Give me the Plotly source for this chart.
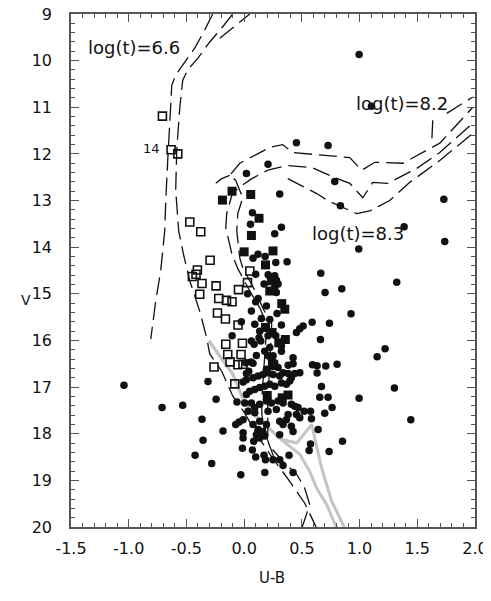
import plotly.graph_objects as go

# ---------------- data (U-B, V) ----------------
open_sq_ub = [-0.708, -0.633, -0.575, -0.471, -0.376, -0.295, -0.405, -0.417, -0.448, -0.365,
              -0.243, -0.385, -0.049, 0.049, 0.029, -0.220, -0.153, -0.105, -0.231, -0.162,
              -0.053, -0.015, -0.159, -0.142, -0.027, -0.122, -0.055, -0.010, -0.261, -0.081]
open_sq_v = [11.19, 11.91, 12.00, 13.46, 13.67, 14.28, 14.49, 14.58, 14.63, 14.78,
             14.83, 15.01, 14.91, 14.51, 14.76, 15.10, 15.14, 15.17, 15.41, 15.54,
             15.67, 16.06, 16.08, 16.30, 16.30, 16.46, 16.52, 16.51, 16.57, 16.93]

fill_sq_ub = [-0.188, -0.105, 0.057, 0.129, 0.063, 0.000, 0.250, 0.185, 0.236, 0.222,
              0.326, 0.352, 0.185, 0.242, 0.357, 0.300, 0.245, 0.200, 0.380, 0.330, 0.150]
fill_sq_v = [12.99, 12.80, 12.87, 13.38, 13.75, 14.10, 14.08, 14.38, 14.72, 14.94,
             15.21, 15.33, 15.72, 15.83, 15.98, 16.05, 16.53, 17.18, 17.17, 17.23, 17.97]

dot_ub = [0.996, 1.103, 0.453, 0.727, 0.207, 0.020, 0.785, 0.308, 0.834, 0.072,
          0.055, 0.323, 0.265, 1.386, 1.730, 1.738, 0.993, 0.372, 0.664, 1.322,
          0.701, 0.846, 0.926, 0.589, 0.739, 0.323, 0.661, 1.221, 1.152, 0.592,
          0.632, 0.707, 0.805, 0.632, 0.670, 1.302, 0.655, 0.727, 0.996, 0.762,
          0.698, 0.519, 0.575, 0.583, 1.444, 0.641, 0.852, 0.736, 0.575, 0.563,
          0.389, 0.337, 0.424,
          -1.041, -0.711, -0.532, -0.313, -0.243, -0.365, -0.183, -0.356, -0.425, -0.281,
          -0.029, 0.179, -0.044, -0.009, -0.015, 0.072, 0.100, 0.172, 0.250, 0.083,
          -0.073, -0.062, 0.020, 0.308, 0.185,
          0.077, 0.120, 0.274, 0.182, 0.100, 0.208, 0.237, 0.265, 0.280, 0.294,
          0.265, 0.173, 0.030, -0.104,
          0.279, 0.121, 0.100, 0.193, 0.063, 0.285, 0.149, 0.222, 0.092, -0.024,
          0.135, 0.207, 0.274, 0.063, 0.086, 0.144, 0.129, 0.222, 0.323, 0.106,
          0.077, 0.040, 0.424, 0.381, 0.482, 0.511, 0.453, 0.178, 0.207, 0.236,
          0.265, 0.245, 0.193, 0.294,
          0.014, 0.058, 0.020, 0.251, 0.323, 0.424, 0.482, 0.439,
          -0.009, 0.019, 0.077, 0.121, 0.164, 0.207, 0.251, 0.308, 0.337, 0.381,
          0.409, 0.048, 0.092, 0.135, 0.178, 0.222, 0.265, 0.323, 0.366, 0.395,
          0.005, 0.063, 0.092, 0.135, 0.193, 0.236, 0.294, 0.337, 0.409, 0.438,
          0.467, 0.034, 0.092, 0.207, 0.279, 0.381, 0.453, 0.482,
          -0.009, 0.077, 0.135, 0.193, 0.308, 0.366, 0.337, 0.409,
          0.121, 0.164, 0.106, 0.135, 0.178, -0.009, 0.308, 0.424]
dot_v = [9.87, 10.98, 11.76, 11.82, 12.22, 12.42, 12.59, 12.86, 13.11, 13.26,
         13.51, 13.57, 13.71, 13.56, 12.97, 13.88, 14.04, 14.31, 14.56, 14.75,
         14.97, 14.89, 15.43, 15.61, 15.63, 15.67, 15.98, 16.18, 16.35, 16.52,
         16.54, 16.55, 16.51, 16.70, 16.99, 17.02, 17.22, 17.22, 17.24, 17.44,
         17.56, 17.52, 17.52, 17.68, 17.70, 17.91, 18.16, 18.38, 18.22, 18.36,
         18.46, 18.68, 18.83,
         16.96, 17.44, 17.39, 16.88, 17.26, 17.69, 17.94, 18.14, 18.46, 18.64,
         18.88, 18.83, 17.75, 18.09, 18.31, 18.35, 18.50, 18.46, 18.56, 18.16,
         17.80, 17.32, 17.16, 18.56, 18.56,
         14.24, 14.15, 14.33, 14.20, 14.58, 14.59, 14.65, 14.61, 14.71, 14.79,
         14.86, 14.79, 15.00, 15.90,
         14.97, 15.10, 15.17, 15.26, 15.37, 15.42, 15.53, 15.55, 15.65, 15.60,
         15.80, 15.90, 15.90, 16.01, 16.08, 16.01, 15.94, 16.15, 16.12, 16.32,
         16.49, 16.66, 16.37, 16.53, 15.75, 15.69, 15.83, 16.23, 16.33, 16.41,
         16.48, 16.56, 16.62, 16.58,
         16.48, 16.46, 16.71, 16.33, 16.23, 16.50, 16.69, 16.71,
         16.89, 16.84, 16.80, 16.76, 16.73, 16.69, 16.73, 16.76, 16.69, 16.71,
         16.80, 17.09, 17.05, 17.01, 16.98, 16.94, 16.98, 16.91, 16.94, 16.87,
         17.34, 17.34, 17.44, 17.37, 17.30, 17.34, 17.30, 17.34, 17.37, 17.41,
         17.44, 17.52, 17.55, 17.52, 17.48, 17.59, 17.59, 17.66,
         17.70, 17.80, 17.73, 17.80, 17.73, 17.70, 17.80, 17.84,
         17.91, 17.98, 18.02, 18.09, 18.05, 17.98, 18.02, 17.95]

# isochrones (dashed black)
iso66a_ub = [-0.272, -0.341, -0.428, -0.515, -0.593, -0.627, -0.645, -0.662, -0.679, -0.688, -0.723, -0.766, -0.792, -0.809]
iso66a_v = [9.00, 9.34, 9.73, 10.03, 10.31, 10.53, 11.28, 12.14, 13.00, 13.65, 14.51, 15.15, 15.65, 15.97]
iso66b_ub = [-0.099, -0.194, -0.298, -0.402, -0.489, -0.532, -0.558, -0.584, -0.593, -0.567, -0.523, -0.471,
             -0.385, -0.324, -0.298, -0.194, -0.099, 0.005, 0.118, 0.248, 0.395, 0.525, 0.629]
iso66b_v = [9.00, 9.30, 9.60, 9.95, 10.20, 10.42, 11.02, 11.92, 12.78, 13.65, 14.18, 14.72,
            15.37, 15.95, 16.29, 16.66, 17.19, 17.56, 18.05, 18.53, 19.02, 19.49, 20.03]
iso66c_ub = [-0.211, 0.049]
iso66c_v = [9.52, 9.00]
iso82a_ub = [0.499, 0.568, 0.525, 0.456, 0.334, 0.222, 0.178, 0.153, 0.153, 0.170, 0.187, 0.205, 0.135, 0.049,
             -0.055, -0.107, -0.159, -0.151, -0.107, -0.055, 0.066, 0.205, 0.369, 0.586, 0.785, 0.915, 1.028,
             1.114, 1.244, 1.496, 1.695, 1.981]
iso82a_v = [20.03, 19.52, 19.17, 18.87, 18.59, 18.27, 17.95, 17.58, 17.26, 16.66, 16.01, 15.69, 15.30, 14.94,
            14.46, 14.14, 13.58, 13.28, 12.89, 12.74, 12.53, 12.35, 12.25, 12.29, 12.51, 12.63, 12.94,
            12.61, 12.63, 12.31, 11.97, 11.34]
iso82b_ub = [0.265, 0.205, 0.205, 0.222, 0.239, 0.160, 0.109, -0.012, -0.038, -0.064, -0.055, -0.012, -0.073,
             -0.125, -0.038, 0.222, 0.334, 0.421, 0.915, 1.019, 1.132, 1.374, 1.461, 1.695, 1.981]
iso82b_v = [18.55, 18.16, 17.30, 16.44, 15.65, 15.30, 15.00, 14.44, 14.23, 13.65, 13.28, 12.94, 12.57,
            12.46, 12.20, 11.86, 11.80, 11.97, 12.08, 12.35, 12.18, 12.20, 12.08, 11.77, 11.00]
iso83_ub = [0.378, 0.629, 0.724, 0.976, 1.088, 1.261, 1.435, 1.695, 1.981]
iso83_v = [12.53, 12.85, 13.00, 13.28, 13.22, 13.00, 12.61, 12.14, 11.56]
iso_e1_ub = [1.755, 1.981]
iso_e1_v = [11.13, 10.78]
iso_e2_ub = [1.634, 1.626]
iso_e2_v = [11.28, 11.71]
iso_e3_ub = [-0.246, -0.194, -0.125]
iso_e3_v = [12.63, 12.53, 12.46]

# gray lines
gray1_ub = [-0.305, -0.194, -0.099, -0.012, 0.075, 0.196, 0.326, 0.456, 0.586, 0.612, 0.672, 0.759, 0.872]
gray1_v = [16.01, 16.38, 16.72, 17.24, 17.56, 17.84, 18.12, 18.20, 17.80, 18.10, 18.74, 19.45, 20.03]
gray2_ub = [-0.305, -0.194, -0.099, -0.012, 0.075, 0.196, 0.308, 0.482, 0.568, 0.629, 0.716, 0.802]
gray2_v = [16.01, 16.38, 16.72, 17.24, 17.56, 17.84, 18.10, 18.44, 18.81, 19.17, 19.52, 20.03]

x_tickvals = [-1.5, -1.0, -0.5, 0.0, 0.5, 1.0, 1.5, 2.0]
x_ticktext = ["-1.5", "-1.0", "-0.5", "0.0", "0.5", "1.0", "1.5", "2.0"]
y_tickvals = [9, 10, 11, 12, 13, 14, 15, 16, 17, 18, 19, 20]
y_ticktext = [str(v) for v in y_tickvals]

labels = ["log(t)=6.6", "log(t)=8.2", "log(t)=8.3"]
label_ub = [-1.37, 0.95, 0.57]
label_v = [9.71, 10.91, 13.71]

FONT = "DejaVu Sans, Verdana, sans-serif"

fig = go.Figure()

for xs, ys in [(gray1_ub, gray1_v), (gray2_ub, gray2_v)]:
    fig.add_trace(go.Scatter(x=xs, y=ys, mode="lines",
                             line=dict(color="#c4c4c4", width=3), hoverinfo="skip"))

dash = "18px,7px"
for xs, ys in [(iso66a_ub, iso66a_v), (iso66b_ub, iso66b_v), (iso66c_ub, iso66c_v),
               (iso82a_ub, iso82a_v), (iso82b_ub, iso82b_v), (iso83_ub, iso83_v),
               (iso_e1_ub, iso_e1_v), (iso_e2_ub, iso_e2_v), (iso_e3_ub, iso_e3_v)]:
    fig.add_trace(go.Scatter(x=xs, y=ys, mode="lines",
                             line=dict(color="#111111", width=1.3, dash=dash), hoverinfo="skip"))

fig.add_trace(go.Scatter(x=dot_ub, y=dot_v, mode="markers",
                         marker=dict(symbol="circle", size=7.5, color="#111111", line=dict(width=0))))
fig.add_trace(go.Scatter(x=fill_sq_ub, y=fill_sq_v, mode="markers",
                         marker=dict(symbol="square", size=9, color="#111111", line=dict(width=0))))
fig.add_trace(go.Scatter(x=open_sq_ub, y=open_sq_v, mode="markers",
                         marker=dict(symbol="square-open", size=8, color="#111111",
                                     line=dict(width=1.6, color="#111111"))))

for t, xu, yv in zip(labels, label_ub, label_v):
    fig.add_annotation(x=xu, y=yv, text=t, showarrow=False, xanchor="left", yanchor="middle",
                       font=dict(family=FONT, size=18, color="#111111"))
fig.add_annotation(x=-0.71, y=11.88, text="14", showarrow=False, xanchor="right", yanchor="middle",
                   font=dict(family=FONT, size=13, color="#111111"))
fig.add_annotation(x=0.497, y=-0.099, xref="paper", yref="paper", text="U-B", showarrow=False,
                   yanchor="middle", xanchor="center", font=dict(family=FONT, size=15, color="#111111"))
fig.add_annotation(x=-0.112, y=0.442, xref="paper", yref="paper", text="V", showarrow=False,
                   yanchor="middle", xanchor="center", font=dict(family=FONT, size=14, color="#111111"))

axis_common = dict(showline=True, linecolor="#555555", linewidth=1.5, mirror="allticks",
                   ticks="inside", ticklen=8, tickwidth=1, tickcolor="#555555",
                   showgrid=False, zeroline=False, automargin=False, ticklabeloverflow="allow",
                   tickfont=dict(family=FONT, size=16, color="#111111"))
fig.update_xaxes(range=[-1.5, 2.0], tickvals=x_tickvals, ticktext=x_ticktext,
                 minor=dict(dtick=0.1, tick0=-1.5, ticks="inside", ticklen=4, tickcolor="#555555", showgrid=False),
                 ticklabelstandoff=6, **axis_common)
fig.update_yaxes(range=[20, 9], tickvals=y_tickvals, ticktext=y_ticktext,
                 minor=dict(dtick=0.2, tick0=9, ticks="inside", ticklen=4, tickcolor="#555555", showgrid=False),
                 ticklabelstandoff=14, **axis_common)

# page body adds an 8px margin, so the figure is sized to fill the 491x601 window
fig.update_layout(width=483, height=593, margin=dict(l=63, r=16, t=6, b=74, autoexpand=False),
                  paper_bgcolor="white", plot_bgcolor="white", showlegend=False,
                  font=dict(family=FONT, color="#111111"))

fig.write_html("out.html")
